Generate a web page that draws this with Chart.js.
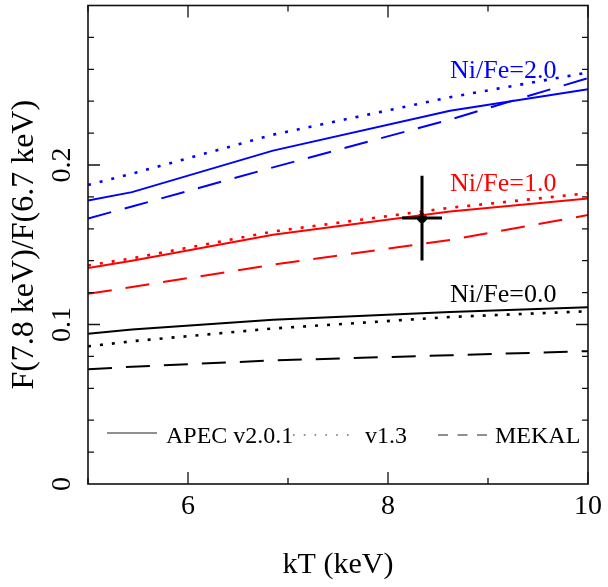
<!DOCTYPE html>
<html>
<head>
<meta charset="utf-8">
<script src="https://cdn.jsdelivr.net/npm/chart.js@4"></script>
<style>
  html, body { margin: 0; padding: 0; background: #fff; }
  #wrap { width: 608px; height: 587px; }
</style>
</head>
<body>
<div id="wrap"><canvas id="c" width="608" height="587"></canvas></div>
<script>
// Temperature grid (keV)
const kT = [5, 5.44, 6.85, 8.62, 10];

// Flux ratio F(7.8 keV)/F(6.7 keV) for each plasma code and Ni/Fe ratio
const apec201Ni0 = [0.0942, 0.0968, 0.1030, 0.1078, 0.1108];
const apec13Ni0  = [0.0863, 0.0895, 0.0975, 0.1047, 0.1083];
const mekalNi0   = [0.0719, 0.0735, 0.0775, 0.0807, 0.0833];

const apec201Ni1 = [0.1354, 0.1400, 0.1563, 0.1708, 0.1790];
const apec13Ni1  = [0.1370, 0.1415, 0.1583, 0.1732, 0.1823];
const mekalNi1   = [0.1192, 0.1235, 0.1375, 0.1530, 0.1686];

const apec201Ni2 = [0.1778, 0.1830, 0.2090, 0.2340, 0.2475];
const apec13Ni2  = [0.1875, 0.1945, 0.2190, 0.2425, 0.2580];
const mekalNi2   = [0.1665, 0.1740, 0.1985, 0.2285, 0.2545];

// Measured ratio with its errors
const obsKT = [8.34];
const obsKTErr = [0.2];
const obsRatio = [0.1667];
const obsRatioErr = [0.0265];

// Axis ticks
const xTickValues = [6, 8, 10];
const yTickValues = [0, 0.1, 0.2];
const yTickLabels = ['0', '0.1', '0.2'];
const xMinorTicks = [5, 6, 7, 8, 9, 10];
const yMinorStep = 0.02;

// Curve labels
const curveLabels = ['Ni/Fe=2.0', 'Ni/Fe=1.0', 'Ni/Fe=0.0'];
const curveLabelAt = [[8.62, 0.2544], [8.62, 0.1838], [8.62, 0.1138]];

const serif = "'Liberation Serif', 'Times New Roman', serif";
const BLUE = '#0000ff', RED = '#ff0000', BLACK = '#000000';
const SOLID = [], DOTTED = [3, 9], DASHED = [24, 14];

function pts(ys) { return kT.map((k, i) => ({ x: k, y: ys[i] })); }
function curve(ys, color, dash) {
  return {
    data: pts(ys), borderColor: color, borderWidth: dash === DOTTED ? 2.6 : 2,
    borderDash: dash, pointRadius: 0, fill: false, tension: 0
  };
}

const datasets = [
  curve(apec201Ni2, BLUE, SOLID), curve(apec13Ni2, BLUE, DOTTED), curve(mekalNi2, BLUE, DASHED),
  curve(apec201Ni1, RED, SOLID),  curve(apec13Ni1, RED, DOTTED),  curve(mekalNi1, RED, DASHED),
  curve(apec201Ni0, BLACK, SOLID), curve(apec13Ni0, BLACK, DOTTED), curve(mekalNi0, BLACK, DASHED),
  {
    data: obsKT.map((k, i) => ({ x: k, y: obsRatio[i] })),
    showLine: false, pointRadius: 4.5, pointBackgroundColor: BLACK, pointBorderColor: BLACK
  }
];

// Frame, inward tick marks, rotated y labels, error bars, curve labels and the line-style key
const decorations = {
  id: 'decorations',
  afterDatasetsDraw(chart) {
    const { ctx, chartArea: a, scales: { x, y } } = chart;
    ctx.save();

    // error bars
    ctx.strokeStyle = BLACK;
    ctx.lineWidth = 3;
    obsKT.forEach((k, i) => {
      const px = x.getPixelForValue(k), py = y.getPixelForValue(obsRatio[i]);
      ctx.beginPath();
      ctx.moveTo(x.getPixelForValue(k - obsKTErr[i]), py);
      ctx.lineTo(x.getPixelForValue(k + obsKTErr[i]), py);
      ctx.moveTo(px, y.getPixelForValue(obsRatio[i] - obsRatioErr[i]));
      ctx.lineTo(px, y.getPixelForValue(obsRatio[i] + obsRatioErr[i]));
      ctx.stroke();
    });

    // frame
    ctx.lineWidth = 1.6;
    ctx.strokeStyle = '#111';
    ctx.strokeRect(a.left, a.top, a.right - a.left, a.bottom - a.top);

    // tick marks
    ctx.lineWidth = 1.3;
    ctx.beginPath();
    xMinorTicks.forEach(v => {
      const px = x.getPixelForValue(v);
      const len = xTickValues.includes(v) ? 12 : 6;
      ctx.moveTo(px, a.bottom); ctx.lineTo(px, a.bottom - len);
      ctx.moveTo(px, a.top); ctx.lineTo(px, a.top + len);
    });
    for (let i = 1; i * yMinorStep < y.max - 1e-9; i++) {
      const v = i * yMinorStep;
      const py = y.getPixelForValue(v);
      const major = Math.abs(v * 10 - Math.round(v * 10)) < 1e-6;
      const len = major ? 12 : 6;
      ctx.moveTo(a.left, py); ctx.lineTo(a.left + len, py);
      ctx.moveTo(a.right, py); ctx.lineTo(a.right - len, py);
    }
    ctx.stroke();

    // y tick labels, reading upwards
    ctx.fillStyle = BLACK;
    ctx.font = '28px ' + serif;
    ctx.textAlign = 'center';
    ctx.textBaseline = 'alphabetic';
    yTickValues.forEach((v, i) => {
      ctx.save();
      ctx.translate(a.left - 18, y.getPixelForValue(v));
      ctx.rotate(-Math.PI / 2);
      ctx.fillText(yTickLabels[i], 0, 0);
      ctx.restore();
    });

    // curve labels
    ctx.font = '26px ' + serif;
    ctx.textAlign = 'left';
    [BLUE, RED, BLACK].forEach((c, i) => {
      ctx.fillStyle = c;
      ctx.fillText(curveLabels[i], x.getPixelForValue(curveLabelAt[i][0]), y.getPixelForValue(curveLabelAt[i][1]));
    });

    // line-style key
    const key = [
      { text: 'APEC v2.0.1', dash: [], x0: 107, x1: 157, ly: 433, tx: 166 },
      { text: 'v1.3', dash: [1.6, 9.2], x0: 293, x1: 349, ly: 435, tx: 365 },
      { text: 'MEKAL', dash: [10, 9.5], x0: 438, x1: 488, ly: 435, tx: 495 }
    ];
    ctx.font = '24px ' + serif;
    ctx.fillStyle = BLACK;
    key.forEach(k => {
      ctx.strokeStyle = '#222';
      ctx.lineWidth = 1.2;
      ctx.setLineDash(k.dash);
      ctx.beginPath();
      ctx.moveTo(k.x0, k.ly); ctx.lineTo(k.x1, k.ly);
      ctx.stroke();
      ctx.setLineDash([]);
      ctx.fillText(k.text, k.tx, 443);
    });

    ctx.restore();
  }
};

new Chart(document.getElementById('c'), {
  type: 'line',
  data: { datasets },
  options: {
    responsive: false,
    animation: false,
    events: [],
    layout: { padding: { top: 4, right: 19, left: 0, bottom: 0 } },
    plugins: { legend: { display: false }, tooltip: { enabled: false } },
    scales: {
      x: {
        type: 'linear', min: 5, max: 10,
        grid: { display: false, drawTicks: false },
        border: { display: false },
        afterBuildTicks: s => { s.ticks = xTickValues.map(v => ({ value: v })); },
        afterFit: s => { s.height = 103; },
        ticks: {
          color: BLACK, font: { family: serif, size: 28 }, padding: 6,
          maxRotation: 0, autoSkip: false, callback: v => String(v)
        },
        title: {
          display: true, text: 'kT (keV)', color: BLACK,
          font: { family: serif, size: 30 }, padding: { top: 0, bottom: 4 }
        }
      },
      y: {
        type: 'linear', min: 0, max: 0.3,
        grid: { display: false, drawTicks: false },
        border: { display: false },
        afterBuildTicks: s => { s.ticks = yTickValues.map(v => ({ value: v })); },
        afterFit: s => { s.width = 88; },
        ticks: { display: false },
        title: {
          display: true, text: 'F(7.8 keV)/F(6.7 keV)', color: BLACK,
          font: { family: serif, size: 32 }, padding: { top: 5, bottom: 0 }
        }
      }
    }
  },
  plugins: [decorations]
});
</script>
</body>
</html>
